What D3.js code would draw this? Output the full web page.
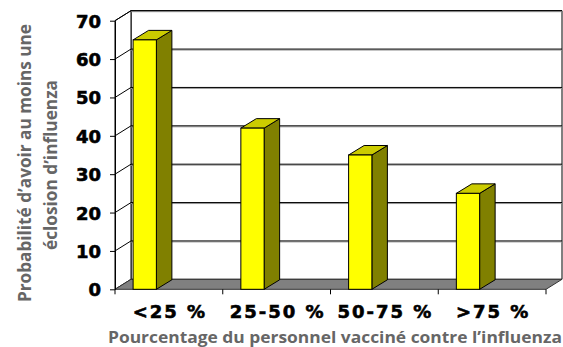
<!DOCTYPE html>
<html>
<head>
<meta charset="utf-8">
<script src="https://cdn.jsdelivr.net/npm/d3@7"></script>
<style>
  html, body { margin: 0; padding: 0; background: #fff; }
  svg { display: block; }
  .tick-lbl { font-family: "DejaVu Sans", sans-serif; font-weight: bold; font-size: 18px; fill: #000; stroke: #000; stroke-width: 0.6px; }
  .ttl { font-family: "Open Sans", sans-serif; font-weight: bold; fill: #666; }
</style>
</head>
<body>
<svg id="chart" width="563" height="347"></svg>
<script>
// data
var categories = ['<25 %', '25-50 %', '50-75 %', '>75 %'];
var values = [65, 42, 35, 25];
var yTicks = [0, 10, 20, 30, 40, 50, 60, 70];
var xTitle = 'Pourcentage du personnel vaccin\u00e9 contre l\u2019influenza';
var yTitle = ['Probabilit\u00e9 d\u2019avoir au moins une', '\u00e9closion d\u2019influenza'];

var svg = d3.select('#chart');

// 3d depth of the walls / bars
var DX = 16, DY = -10;
var BDX = 15.5, BDY = -9.5;

var y = d3.scaleLinear().domain([0, 70]).range([289.3, 20.7]);
var x = d3.scaleBand().domain(categories).range([115, 546]);
var bw = x.bandwidth();

var x0 = x.range()[0], x1 = x.range()[1];
var yb = y(0), yt = y(70);

function poly(pts) { return 'M' + pts.map(p => p.join(',')).join('L') + 'Z'; }

// back wall
svg.append('path')
    .attr('d', poly([[x0 + DX, yt + DY], [x1 + DX, yt + DY], [x1 + DX, yb + DY], [x0 + DX, yb + DY]]))
    .attr('fill', '#fff').attr('stroke', '#000').attr('stroke-width', 1);

// left wall
svg.append('path')
    .attr('d', poly([[x0, yb], [x0, yt], [x0 + DX, yt + DY], [x0 + DX, yb + DY]]))
    .attr('fill', '#fff').attr('stroke', '#000').attr('stroke-width', 1);

// gridlines (back wall + diagonals on left wall)
var grid = svg.append('g');
yTicks.filter(v => v > 0).forEach(function(v) {
    var gy = y(v) + DY;
    grid.append('line')
        .attr('x1', x0 + DX).attr('x2', x1 + DX).attr('y1', gy + 1).attr('y2', gy + 1)
        .attr('stroke', '#999').attr('stroke-width', 1);
    grid.append('line')
        .attr('x1', x0 + DX).attr('x2', x1 + DX).attr('y1', gy).attr('y2', gy)
        .attr('stroke', '#000').attr('stroke-width', 1);
    grid.append('line')
        .attr('x1', x0).attr('y1', y(v)).attr('x2', x0 + DX).attr('y2', gy)
        .attr('stroke', '#000').attr('stroke-width', 1);
});

// floor
svg.append('path')
    .attr('d', poly([[x0, yb], [x1, yb], [x1 + DX, yb + DY], [x0 + DX, yb + DY]]))
    .attr('fill', '#808080').attr('stroke', '#333').attr('stroke-width', 1);

// y axis
var yAxis = svg.append('g')
    .attr('transform', 'translate(' + x0 + ',0)')
    .call(d3.axisLeft(y).tickValues(yTicks).tickSize(5).tickSizeOuter(0).tickPadding(9));
yAxis.select('.domain').attr('stroke', '#000');
yAxis.selectAll('.tick line').attr('stroke', '#000');
yAxis.selectAll('.tick text').attr('class', 'tick-lbl').attr('dy', '0.36em');

// x axis: labels centred in bands, ticks at band edges
var xAxis = svg.append('g')
    .attr('transform', 'translate(0,' + yb + ')')
    .call(d3.axisBottom(x).tickSize(0).tickPadding(0));
xAxis.select('.domain').remove();
xAxis.selectAll('.tick text')
    .attr('class', 'tick-lbl')
    .attr('y', 29).attr('dy', 0)
    .attr('dx', 1)
    .style('letter-spacing', '2px');

var edges = categories.map(c => x(c)).concat([x1]);
svg.append('g').selectAll('line').data(edges).enter().append('line')
    .attr('x1', d => d).attr('x2', d => d)
    .attr('y1', yb).attr('y2', yb + 5)
    .attr('stroke', '#000');

// bars
var bars = svg.append('g').selectAll('g').data(values).enter().append('g');
bars.each(function(v, i) {
    var g = d3.select(this);
    var bx = x(categories[i]) + bw * 0.168;
    var w = bw * 0.216;
    var top = y(v);
    g.append('path')
        .attr('d', poly([[bx + w, yb], [bx + w, top], [bx + w + BDX, top + BDY], [bx + w + BDX, yb + BDY]]))
        .attr('fill', '#808000').attr('stroke', '#000').attr('stroke-width', 1);
    g.append('path')
        .attr('d', poly([[bx, top], [bx + w, top], [bx + w + BDX, top + BDY], [bx + BDX, top + BDY]]))
        .attr('fill', '#CCCC00').attr('stroke', '#000').attr('stroke-width', 1);
    g.append('rect')
        .attr('x', bx).attr('y', top).attr('width', w).attr('height', yb - top)
        .attr('fill', '#FFFF00').attr('stroke', '#000').attr('stroke-width', 1);
});

// titles
svg.append('text')
    .attr('class', 'ttl')
    .attr('x', 108).attr('y', 342.5)
    .attr('font-size', 16)
    .attr('textLength', 454).attr('lengthAdjust', 'spacingAndGlyphs')
    .text(xTitle);

var yt1 = [[31, 163, 278], [57, 165, 170]];
yTitle.forEach(function(t, i) {
    svg.append('text')
        .attr('class', 'ttl')
        .attr('transform', 'translate(' + yt1[i][0] + ',' + yt1[i][1] + ') rotate(-90)')
        .attr('text-anchor', 'middle')
        .attr('font-size', 18)
        .attr('textLength', yt1[i][2]).attr('lengthAdjust', 'spacingAndGlyphs')
        .text(t);
});
</script>
</body>
</html>
